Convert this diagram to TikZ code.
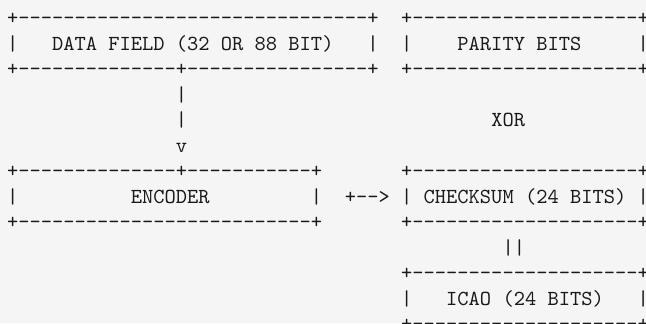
\documentclass[tikz,border=0pt]{standalone}
\usepackage{tikz}
\definecolor{paper}{RGB}{245,245,245}
\definecolor{ink}{RGB}{25,25,25}
% one hyphen per box, so no dash ligature can form
\newcommand\asciidash[1]{\foreach\k in {1,...,#1}{\mbox{-}}}
\newcommand\asciiedge[1]{+\asciidash{#1}+}

\begin{document}
\begin{tikzpicture}[x=5.63pt,y=-12.75pt,
    every node/.style={inner sep=0pt,outer sep=0pt,anchor=base west,align=left,
      text=ink,font=\fontsize{10.72}{12.75}\selectfont\ttfamily}]
  \fill[paper] (-0.628,0.039) rectangle (56.74,12.71);
  \useasboundingbox (-0.628,0.039) rectangle (56.74,12.71);

  % top row (a node sits on the baseline of its last line)
  \node (datafield) at (0,3) {\asciiedge{31}\\|~~~DATA FIELD (32 OR 88 BIT)~~~|\\+\asciidash{14}+\asciidash{16}+};
  \node (parity) at (35,3) {\asciiedge{20}\\|~~~~PARITY BITS~~~~~|\\\asciiedge{20}};

  % down stem and xor
  \node (stem) at (15,6) {|\\|\\v};
  \node (xor) at (43,5) {XOR};

  % middle row
  \node (encoder) at (0,9) {+\asciidash{14}+\asciidash{11}+\\|~~~~~~~~~~ENCODER~~~~~~~~~|\\\asciiedge{26}};
  \node (feed) at (30,8) {+\asciidash{2}>};
  \node (checksum) at (35,9) {\asciiedge{20}\\|~CHECKSUM (24 BITS)~|\\\asciiedge{20}};

  % bottom
  \node (equal) at (44,10) {||};
  \node (icao) at (35,13) {\asciiedge{20}\\|~~~ICAO (24 BITS)~~~|\\\asciiedge{20}};
\end{tikzpicture}
\end{document}
